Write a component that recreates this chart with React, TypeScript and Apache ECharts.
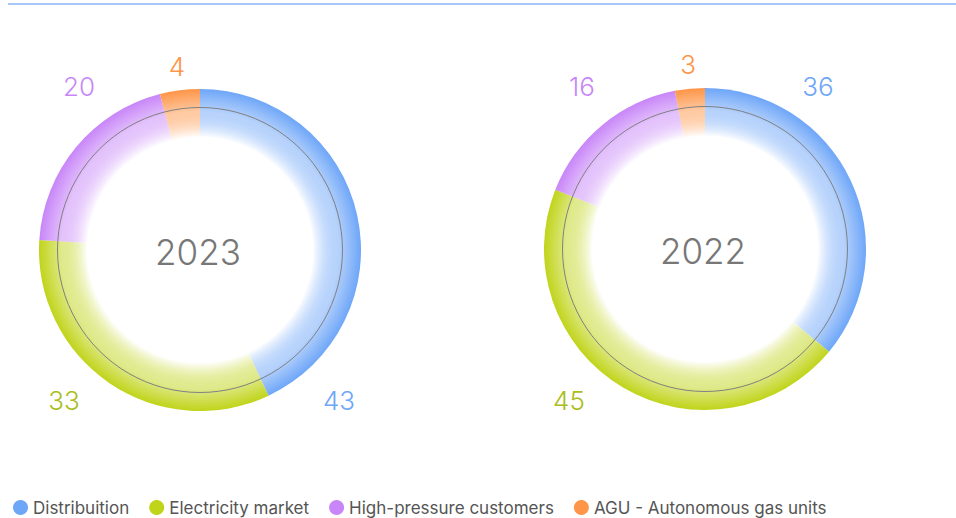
import React, { useEffect, useRef } from "react";
import * as echarts from "echarts";

const categories = ["Distribuition", "Electricity market", "High-pressure customers", "AGU - Autonomous gas units"];
const colors = ["#6ea6f8", "#c0d41a", "#c886f8", "#fe9548"];
const labelColors = ["#6ea6f8", "#aabd1c", "#c886f8", "#fe9548"];
const years = ["2023", "2022"];
const values2023 = [43, 33, 20, 4];
const values2022 = [36, 45, 16, 3];
const valuesByYear = [values2023, values2022];

// layout (pixels)
const centers: [number, number][] = [[200, 250], [705, 249]];
const outerR = 161;
const ringR = 142.5;
const labelPos: [number, number][][] = [
  [[339, 400], [64, 400], [79, 86], [177, 66]],
  [[818, 86], [569, 400], [582, 86], [688, 64]],
];

function hexToRgba(hex: string, a: number) {
  const n = parseInt(hex.slice(1), 16);
  return `rgba(${(n >> 16) & 255},${(n >> 8) & 255},${n & 255},${a})`;
}

export default function App() {
  const ref = useRef<HTMLDivElement>(null);
  useEffect(() => {
    if (!ref.current) return;
    const chart = echarts.init(ref.current, undefined, { renderer: "svg" });
    const font = "Inter, 'Noto Sans', sans-serif";
    const series = valuesByYear.map((vals, si) => {
      const [cx, cy] = centers[si];
      return {
        type: "pie",
        center: [cx, cy],
        radius: [0, outerR],
        startAngle: 90,
        clockwise: true,
        silent: true,
        label: {
          show: true,
          position: "outside",
          formatter: "{c}",
          fontSize: 26,
          fontFamily: font,
          fontWeight: 300,
          overflow: "none",
          width: 80,
        },
        labelLine: { show: false },
        labelLayout: (p: any) => {
          const [x, y] = labelPos[si][p.dataIndex];
          return { x, y, align: "center", verticalAlign: "middle" };
        },
        data: vals.map((v, i) => ({
          name: categories[i],
          value: v,
          label: { color: labelColors[i] },
          itemStyle: {
            borderWidth: 0,
            color: new echarts.graphic.RadialGradient(
              cx,
              cy,
              outerR,
              [
                { offset: 0, color: "#ffffff" },
                { offset: 0.7, color: "#ffffff" },
                { offset: 0.86, color: hexToRgba(colors[i], 0.5) },
                { offset: 1, color: colors[i] },
              ],
              true
            ),
          },
        })),
      };
    });
    const graphics: any[] = [
      {
        type: "line",
        shape: { x1: 8, y1: 4, x2: 956, y2: 4 },
        style: { stroke: "#8db5f7", lineWidth: 1.5 },
        z: 100,
      },
    ];
    centers.forEach(([cx, cy], i) => {
      graphics.push({
        type: "circle",
        shape: { cx, cy, r: ringR },
        style: { fill: "none", stroke: "#808080", lineWidth: 1 },
        z: 100,
        silent: true,
      });
      graphics.push({
        type: "text",
        x: cx - 2,
        y: cy + 2,
        style: {
          text: years[i],
          fill: "#777777",
          font: `300 35px ${font}`,
          align: "center",
          verticalAlign: "middle",
        },
        z: 100,
      });
    });
    chart.setOption({
      animation: false,
      backgroundColor: "#ffffff",
      legend: {
        left: 13,
        top: 499,
        padding: 0,
        icon: "circle",
        itemWidth: 15,
        itemHeight: 15,
        itemGap: 20,
        selectedMode: false,
        textStyle: { fontSize: 17, color: "#555555", fontFamily: font },
        data: categories.map((c, i) => ({ name: c, itemStyle: { color: colors[i] } })),
      },
      graphic: graphics,
      series,
    });
    return () => chart.dispose();
  }, []);
  return (
    <div
      ref={ref}
      style={{ position: "fixed", left: 0, top: 0, width: 956, height: 518 }}
    />
  );
}
